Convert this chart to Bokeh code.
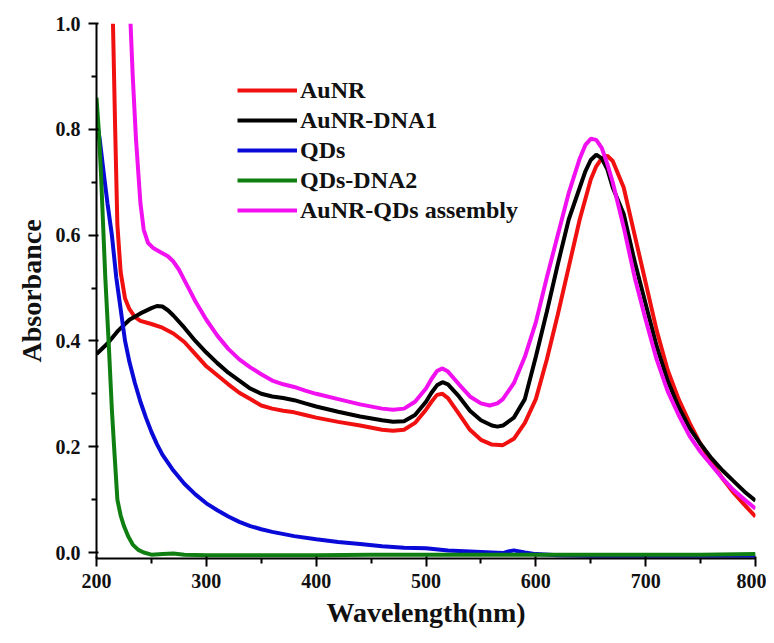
from bokeh.plotting import figure
from bokeh.models import FixedTicker, PrintfTickFormatter, Range1d, Title
from bokeh.embed import file_html
from bokeh.resources import INLINE

# ---- data ----
aunr_x = [215, 217, 219, 222, 226, 230, 235, 240, 250, 260, 270, 280, 290, 300, 310, 320, 330, 340, 350, 360,
          370, 380, 390, 400, 420, 440, 460, 470, 480, 490, 500, 505, 510, 515, 520, 530, 540, 550, 560, 570,
          580, 590, 600, 610, 620, 630, 640, 650, 655, 660, 665, 670, 680, 690, 700, 710, 720, 730, 740, 750,
          760, 770, 780, 790, 800]
aunr_y = [1.0, 0.8, 0.62, 0.53, 0.48, 0.46, 0.445, 0.438, 0.432, 0.425, 0.414, 0.398, 0.375, 0.352, 0.335, 0.318,
          0.302, 0.29, 0.278, 0.272, 0.268, 0.265, 0.26, 0.255, 0.247, 0.24, 0.232, 0.23, 0.232, 0.245, 0.27,
          0.285, 0.298, 0.3, 0.292, 0.262, 0.232, 0.213, 0.204, 0.203, 0.215, 0.245, 0.29, 0.365, 0.45, 0.54,
          0.63, 0.705, 0.73, 0.745, 0.75, 0.74, 0.69, 0.6, 0.51, 0.42, 0.345, 0.29, 0.245, 0.205, 0.17, 0.14,
          0.113, 0.09, 0.068]

dna1_x = [200, 210, 220, 230, 240, 250, 255, 260, 265, 270, 280, 290, 300, 310, 320, 330, 340, 350, 360, 370,
          380, 390, 400, 420, 440, 460, 470, 480, 490, 500, 505, 510, 515, 520, 530, 540, 550, 560, 565, 570,
          580, 590, 600, 610, 620, 630, 640, 645, 650, 655, 660, 665, 670, 680, 690, 700, 710, 720, 730, 740,
          750, 760, 770, 780, 790, 800]
dna1_y = [0.375, 0.395, 0.42, 0.44, 0.452, 0.462, 0.466, 0.465, 0.458, 0.448, 0.425, 0.4, 0.378, 0.358, 0.34,
          0.325, 0.31, 0.3, 0.295, 0.292, 0.288, 0.282, 0.276, 0.266, 0.257, 0.25, 0.247, 0.248, 0.26, 0.285,
          0.302, 0.316, 0.322, 0.318, 0.295, 0.268, 0.25, 0.24, 0.238, 0.24, 0.255, 0.29, 0.37, 0.455, 0.545,
          0.63, 0.69, 0.72, 0.742, 0.752, 0.745, 0.725, 0.69, 0.64, 0.55, 0.47, 0.39, 0.325, 0.275, 0.235,
          0.205, 0.178, 0.155, 0.135, 0.115, 0.098]

qds_x = [200, 203, 207, 210, 214, 218, 222, 226, 230, 235, 240, 245, 250, 255, 260, 270, 280, 290, 300, 310,
         320, 330, 340, 350, 360, 380, 400, 420, 440, 460, 480, 500, 520, 540, 560, 570, 575, 580, 585, 590,
         600, 620, 650, 700, 750, 800]
qds_y = [0.82, 0.78, 0.71, 0.66, 0.6, 0.52, 0.46, 0.4, 0.36, 0.32, 0.285, 0.255, 0.228, 0.205, 0.185, 0.155,
         0.13, 0.11, 0.093, 0.08, 0.068, 0.058, 0.05, 0.044, 0.039, 0.031, 0.025, 0.02, 0.016, 0.012, 0.009,
         0.008, 0.004, 0.002, 0.0, -0.001, 0.002, 0.004, 0.002, 0.0, -0.003, -0.005, -0.006, -0.006, -0.006,
         -0.006]

dna2_x = [200, 202, 204, 206, 208, 211, 214, 216, 219, 222, 225, 229, 233, 238, 243, 250, 260, 270, 280, 300,
          350, 400, 450, 500, 550, 600, 650, 700, 750, 800]
dna2_y = [0.86, 0.8, 0.72, 0.62, 0.52, 0.4, 0.27, 0.2, 0.1, 0.07, 0.05, 0.03, 0.015, 0.005, 0.0, -0.004,
          -0.003, -0.002, -0.004, -0.005, -0.005, -0.005, -0.004, -0.004, -0.004, -0.004, -0.004, -0.004,
          -0.004, -0.003]

asm_x = [231, 233, 236, 240, 243, 247, 252, 258, 265, 270, 275, 280, 285, 290, 300, 310, 320, 330, 340, 350,
         360, 370, 380, 390, 400, 420, 440, 460, 470, 480, 490, 500, 505, 510, 515, 520, 530, 540, 550, 558,
         565, 570, 580, 590, 600, 610, 620, 630, 640, 645, 650, 655, 660, 665, 670, 680, 690, 700, 710, 720,
         730, 740, 750, 760, 770, 780, 790, 800]
asm_y = [1.0, 0.9, 0.78, 0.66, 0.61, 0.585, 0.575, 0.568, 0.56, 0.55, 0.535, 0.515, 0.495, 0.475, 0.44, 0.41,
         0.385, 0.365, 0.35, 0.337, 0.325, 0.318, 0.313, 0.306, 0.3, 0.29, 0.28, 0.272, 0.27, 0.272, 0.285,
         0.31, 0.328, 0.343, 0.348, 0.342, 0.318, 0.295, 0.282, 0.278, 0.282, 0.29, 0.32, 0.37, 0.435, 0.52,
         0.6, 0.68, 0.745, 0.77, 0.782, 0.78, 0.765, 0.735, 0.7, 0.615, 0.52, 0.44, 0.365, 0.305, 0.26, 0.22,
         0.19, 0.165, 0.14, 0.118, 0.1, 0.083]

names = ["AuNR", "AuNR-DNA1", "QDs", "QDs-DNA2", "AuNR-QDs assembly"]
colors = ["#f01010", "#000000", "#0a0ad8", "#0f7f12", "#f010f0"]
x_ticks = [200, 300, 400, 500, 600, 700, 800]
x_minor = [250, 350, 450, 550, 650, 750]
y_ticks = [0.0, 0.2, 0.4, 0.6, 0.8, 1.0]
y_minor = [0.1, 0.3, 0.5, 0.7, 0.9]
x_title = "Wavelength(nm)"
y_title = "Absorbance"

FONT = "Liberation Serif"

p = figure(width=766, height=640, output_backend="svg", toolbar_location=None,
           x_range=Range1d(200, 800), y_range=Range1d(-0.0113, 1.0),
           min_border_left=96, min_border_right=11, min_border_top=23, min_border_bottom=82)
p.outline_line_color = None
p.xgrid.visible = False
p.ygrid.visible = False

ax = p.xaxis[0]
ay = p.yaxis[0]
ax.ticker = FixedTicker(ticks=x_ticks, minor_ticks=x_minor)
ay.ticker = FixedTicker(ticks=y_ticks, minor_ticks=y_minor)
ay.formatter = PrintfTickFormatter(format="%.1f")
for a in (ax, ay):
    a.axis_line_width = 2
    a.major_tick_line_width = 2
    a.minor_tick_line_width = 2
    a.major_tick_out = 8
    a.minor_tick_out = 5
    a.major_label_text_font = FONT
    a.major_label_text_font_style = "bold"
    a.major_label_text_font_size = "20px"
    a.major_label_text_color = "#111111"
ax.major_label_standoff = 7
ay.major_label_standoff = 8

# axis titles as Title annotations placed outside the axes
p.add_layout(Title(text=x_title, align="center", text_font=FONT, text_font_style="bold",
                   text_font_size="28px", text_color="#111111", standoff=8), "below")
p.add_layout(Title(text=y_title, align="center", text_font=FONT, text_font_style="bold",
                   text_font_size="28px", text_color="#111111", standoff=12), "left")

series = [(aunr_x, aunr_y), (dna1_x, dna1_y), (qds_x, qds_y), (dna2_x, dna2_y), (asm_x, asm_y)]
for (xs, ys), c, n in zip(series, colors, names):
    p.line(xs, ys, line_color=c, line_width=4, legend_label=n)

lg = p.legend[0]
lg.location = (141, 333)
lg.glyph_width = 60
lg.glyph_height = 30
lg.label_height = 30
lg.spacing = 0
lg.padding = 0
lg.margin = 0
lg.label_standoff = 3
lg.border_line_color = None
lg.background_fill_alpha = 0
lg.label_text_font = FONT
lg.label_text_font_style = "bold"
lg.label_text_font_size = "24px"
lg.label_text_color = "#111111"

open("out.html", "w").write(file_html(p, INLINE))
